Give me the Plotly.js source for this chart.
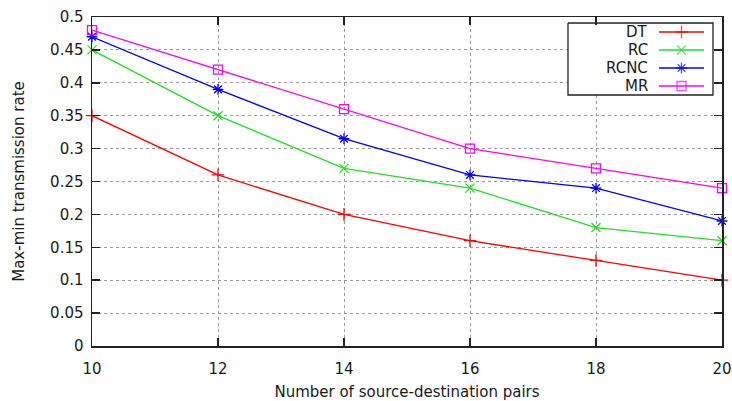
<!DOCTYPE html>
<html>
<head>
<meta charset="utf-8">
<script src="https://cdn.plot.ly/plotly-3.0.1.min.js"></script>
<style>body{margin:0;background:#fff}#chart{width:732px;height:401px}</style>
</head>
<body>
<div id="chart"></div>
<script>
// ---- data ----
const pairs = [10, 12, 14, 16, 18, 20];
const seriesNames = ["DT", "RC", "RCNC", "MR"];
const dtValues   = [0.35, 0.26, 0.20, 0.16, 0.13, 0.10];
const rcValues   = [0.45, 0.35, 0.27, 0.24, 0.18, 0.16];
const rcncValues = [0.47, 0.39, 0.315, 0.26, 0.24, 0.19];
const mrValues   = [0.48, 0.42, 0.36, 0.30, 0.27, 0.24];
const xTitle = "Number of source-destination pairs";
const yTitle = "Max-min transmission rate";

// ---- styles ----
const colors = ["#ff0000", "#22e022", "#0000ff", "#ff00ff"];
const symbols = ["cross-thin-open", "x-thin-open", "asterisk-open", "square-open"];
const allValues = [dtValues, rcValues, rcncValues, mrValues];
const font = {family: "DejaVu Sans, sans-serif", size: 15, color: "#1a1a1a"};

const traces = allValues.map((vals, i) => ({
  x: pairs, y: vals, type: "scatter", mode: "lines+markers", name: seriesNames[i],
  line: {color: colors[i], width: 1.3},
  marker: {symbol: symbols[i], size: 9, color: colors[i], line: {color: colors[i], width: 1.3}},
  cliponaxis: false, showlegend: false, hoverinfo: "skip"
}));

// ---- custom gnuplot-style legend (text left, sample right) on a hidden pixel overlay ----
const L = {left: 92, right: 722, top: 17, bottom: 346};
const box = {x0: 568, x1: 713, y0: 23, y1: 95};
const rowY0 = 32, rowStep = 18, textRight = 650, lineX0 = 659, lineX1 = 704;
traces.push({x: [box.x0, box.x1, box.x1, box.x0, box.x0], y: [box.y0, box.y0, box.y1, box.y1, box.y0],
  xaxis: "x2", yaxis: "y2", type: "scatter", mode: "lines", fill: "toself", fillcolor: "#fff",
  line: {color: "#222", width: 1.3}, showlegend: false, hoverinfo: "skip", cliponaxis: false});
const annotations = [];
seriesNames.forEach((n, i) => {
  const yy = rowY0 + i * rowStep;
  annotations.push({xref: "x2", yref: "y2", x: textRight, y: yy, text: n, showarrow: false,
    xanchor: "right", yanchor: "middle", font: font});
  traces.push({x: [lineX0, (lineX0 + lineX1) / 2, lineX1], y: [yy, yy, yy], xaxis: "x2", yaxis: "y2",
    type: "scatter", mode: "lines+markers", line: {color: colors[i], width: 1.3},
    marker: {symbol: symbols[i], size: [0, 9, 0], color: colors[i], line: {color: colors[i], width: 1.3}},
    showlegend: false, hoverinfo: "skip", cliponaxis: false});
});

const axisCommon = {
  showline: true, linecolor: "#222", linewidth: 1.5, mirror: "allticks",
  ticks: "inside", ticklen: 8, tickcolor: "#222", tickwidth: 1.5,
  showgrid: true, gridcolor: "#9a9a9a", griddash: "dot", gridwidth: 1,
  zeroline: false, tickfont: font
};

const layout = {
  width: 732, height: 401,
  margin: {l: L.left, r: 732 - L.right, t: L.top, b: 401 - L.bottom},
  paper_bgcolor: "#fff", plot_bgcolor: "#fff",
  showlegend: false,
  xaxis: Object.assign({}, axisCommon, {range: [10, 20], tickvals: pairs, ticklabelstandoff: 8,
    title: {text: xTitle, font: font, standoff: 18}}),
  yaxis: Object.assign({}, axisCommon, {range: [0, 0.5], dtick: 0.05, tick0: 0, ticklabelstandoff: 4,
    title: {text: yTitle, font: font, standoff: 22}}),
  xaxis2: {overlaying: "x", anchor: "y2", range: [L.left, L.right], visible: false, fixedrange: true},
  yaxis2: {overlaying: "y", anchor: "x2", range: [L.bottom, L.top], visible: false, fixedrange: true},
  annotations: annotations
};

Plotly.newPlot("chart", traces, layout, {staticPlot: true});
</script>
</body>
</html>
